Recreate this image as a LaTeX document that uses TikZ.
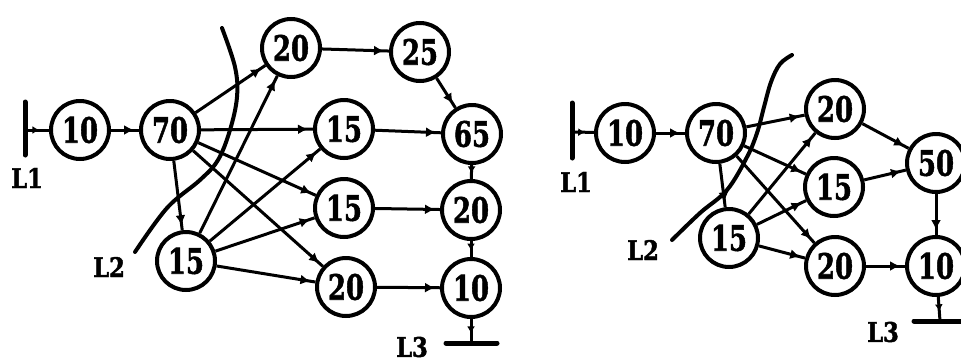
\documentclass[tikz,border=0pt]{standalone}
\usepackage{fontspec}
\setmainfont{DejaVu Serif}[BoldFeatures={FakeBold=1.6}]
\usetikzlibrary{arrows.meta,decorations.markings}

% heavy condensed numerals inside the circles
\newcommand\nv[1]{\scalebox{0.74}[1]{\fontsize{35}{35}\selectfont\bfseries #1}}
\newcommand\lb[1]{\scalebox{0.84}[1]{\fontsize{27}{27}\selectfont\bfseries #1}}

\tikzset{
  val/.style={circle, draw, line width=4pt, minimum size=58pt, inner sep=0pt},
  flow/.style={line width=3pt, postaction={decorate},
    decoration={markings, mark=at position -5pt with {\arrow{Latex[length=10pt,width=10pt]}}}},
  stub/.style={line width=3pt, postaction={decorate},
    decoration={markings, mark=at position 0.6 with {\arrow{Latex[length=7pt,width=8pt]}}}},
  busbar/.style={line width=5pt, line cap=round},
  cutline/.style={line width=4pt, line cap=round},
  tag/.style={inner sep=0pt}
}

\begin{document}
\begin{tikzpicture}[x=1pt, y=-1pt]
\useasboundingbox (0,0) rectangle (961,362);
\clip (0,0) rectangle (961,362);
\fill[white] (0,0) rectangle (961,362);

% ---------------- left network ----------------
\node[val] (a10)  at (80,130)  {\nv{10}};
\node[val] (a70)  at (170,130) {\nv{70}};
\node[val] (a20t) at (291,48)  {\nv{20}};
\node[val] (a25)  at (420,52)  {\nv{25}};
\node[val] (a15a) at (344,129) {\nv{15}};
\node[val] (a65)  at (472,134) {\nv{65}};
\node[val] (a15b) at (344,208) {\nv{15}};
\node[val] (a20r) at (471,210) {\nv{20}};
\node[val] (a15l) at (186,261) {\nv{15}};
\node[val] (a20b) at (346,287) {\nv{20}};
\node[val] (a10r) at (471,288) {\nv{10}};

\coordinate (al1a) at (25,102);
\coordinate (al1b) at (25,155);
\coordinate (al1m) at (25,130);
\coordinate (al3a) at (446,343);
\coordinate (al3b) at (497,343);
\coordinate (al3m) at (471,343);

\draw[busbar] (al1a) -- (al1b);
\draw[busbar] (al3a) -- (al3b);

\draw[stub] (al1m) -- (a10);
\draw[flow] (a10) -- (a70);
\draw[flow] (a70) -- (a20t);
\draw[flow] (a70) -- (a15a);
\draw[flow] (a70) -- (a15b);
\draw[flow] (a70) -- (a20b);
\draw[flow] (a70) -- (a15l);
\draw[flow] (a15l) -- (a20t);
\draw[flow] (a15l) -- (a15a);
\draw[flow] (a15l) -- (a15b);
\draw[flow] (a15l) -- (a20b);
\draw[flow] (a20t) -- (a25);
\draw[flow] (a25) -- (a65);
\draw[flow] (a15a) -- (a65);
\draw[flow] (a15b) -- (a20r);
\draw[flow] (a20b) -- (a10r);
\draw[stub] (a65) -- (a20r);
\draw[stub] (a20r) -- (a10r);
\draw[stub] (a10r) -- (al3m);

\draw[cutline] plot[smooth, tension=0.6] coordinates
  {(135,252) (167,208) (200,180) (218,160) (230,130) (237,97) (235,67) (222,28)};

\node[tag] (al1) at (27,178) {\lb{L1}};
\node[tag] (al2) at (109,267) {\lb{L2}};
\node[tag] (al3) at (412,347) {\lb{L3}};

% ---------------- right network ----------------
\node[val] (b10)  at (625,133) {\nv{10}};
\node[val] (b70)  at (716,133) {\nv{70}};
\node[val] (b20t) at (835,109) {\nv{20}};
\node[val] (b15m) at (834,187) {\nv{15}};
\node[val] (b50)  at (936,163) {\nv{50}};
\node[val] (b15l) at (729,238) {\nv{15}};
\node[val] (b20b) at (835,266) {\nv{20}};
\node[val] (b10r) at (936,266) {\nv{10}};

\coordinate (bl1a) at (572,103);
\coordinate (bl1b) at (572,158);
\coordinate (bl1m) at (572,132);
\coordinate (bl3a) at (914,321);
\coordinate (bl3b) at (975,321);
\coordinate (bl3m) at (940,321);

\draw[busbar] (bl1a) -- (bl1b);
\draw[busbar] (bl3a) -- (bl3b);

\draw[stub] (bl1m) -- (b10);
\draw[flow] (b10) -- (b70);
\draw[flow] (b70) -- (b20t);
\draw[flow] (b70) -- (b15m);
\draw[flow] (b70) -- (b20b);
\draw[flow] (b70) -- (b15l);
\draw[flow] (b15l) -- (b20t);
\draw[flow] (b15l) -- (b15m);
\draw[flow] (b15l) -- (b20b);
\draw[flow] (b20t) -- (b50);
\draw[flow] (b15m) -- (b50);
\draw[flow] (b50) -- (b10r);
\draw[flow] (b20b) -- (b10r);
\draw[stub] (b10r) -- (bl3m);

\draw[cutline] plot[smooth, tension=0.6] coordinates
  {(672,240) (700,213) (727,190) (747,157) (757,133) (764,107) (771,82) (780,64) (792,55)};

\node[tag] (bl1) at (576,182) {\lb{L1}};
\node[tag] (bl2) at (643,250) {\lb{L2}};
\node[tag] (bl3) at (883,332) {\lb{L3}};
\end{tikzpicture}
\end{document}
